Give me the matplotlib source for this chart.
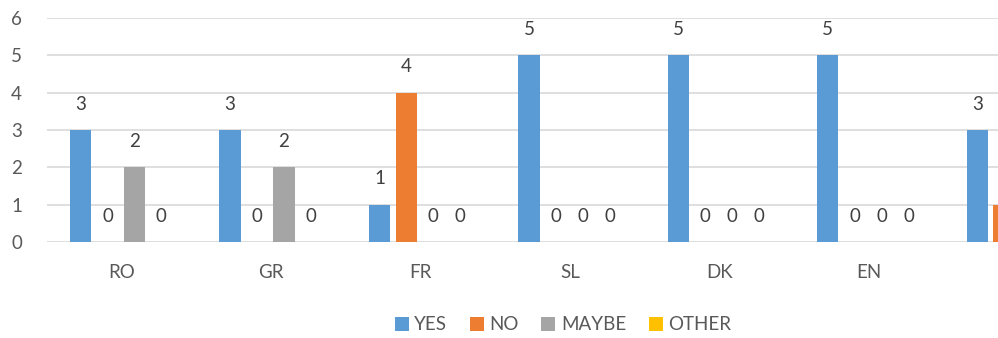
import matplotlib
matplotlib.use("Agg")
import matplotlib.pyplot as plt
import numpy as np

categories = ["RO", "GR", "FR", "SL", "DK", "EN", ""]
yes = [3, 3, 1, 5, 5, 5, 3]
no = [0, 0, 4, 0, 0, 0, 1]
maybe = [2, 2, 0, 0, 0, 0, 0]
other = [0, 0, 0, 0, 0, 0, 0]
series_names = ["YES", "NO", "MAYBE", "OTHER"]
colors = ["#5B9BD5", "#ED7D31", "#A5A5A5", "#FFC000"]

plt.rcParams['font.family'] = ['Lato', 'DejaVu Sans']
txt = "#595959"
fs = 13.5

W, H = 998, 338
fig = plt.figure(figsize=(W / 100, H / 100), dpi=100)
left, right_px = 47, 1093
top_px, bot_px = 18, 242
ax = fig.add_axes([left / W, 1 - bot_px / H, (right_px - left) / W, (bot_px - top_px) / H])

x = np.arange(len(categories))
step = 0.18
width = 0.143
ax.set_xlim(-0.5, len(categories) - 0.5)
ax.set_ylim(0, 6)
for i, (vals, name, c) in enumerate(zip([yes, no, maybe, other], series_names, colors)):
    pos = x + (i - 1.5) * step - 0.005
    ax.bar(pos, vals, width=width, color=c, label=name, zorder=3)
    for p, v in zip(pos, vals):
        px = ax.transData.transform((p, v))[0]
        if px + 8 > W:
            continue  # label falls outside the visible (cropped) canvas
        ax.annotate(str(v), (p, v), xytext=(0, 18.5), textcoords="offset points",
                    ha="center", va="center", fontsize=fs, color="#404040", zorder=4)

ax.set_yticks(range(0, 7))
ax.set_xticks(x)
ax.set_xticklabels(categories)
ax.grid(axis="y", color="#D9D9D9", linewidth=1.2, zorder=0)
for s in ax.spines.values():
    s.set_visible(False)
ax.tick_params(axis="both", length=0, labelsize=fs, colors=txt)
ax.tick_params(axis="x", pad=16)
ax.tick_params(axis="y", pad=18)

handles, labels = ax.get_legend_handles_labels()
fig.legend(handles, labels, loc="center", bbox_to_anchor=(563 / W, 1 - 325 / H), ncol=4,
           frameon=False, fontsize=fs, labelcolor=txt, handlelength=0.75, handleheight=0.75,
           handletextpad=0.3, columnspacing=1.2)

fig.savefig("out.png", dpi=100)
